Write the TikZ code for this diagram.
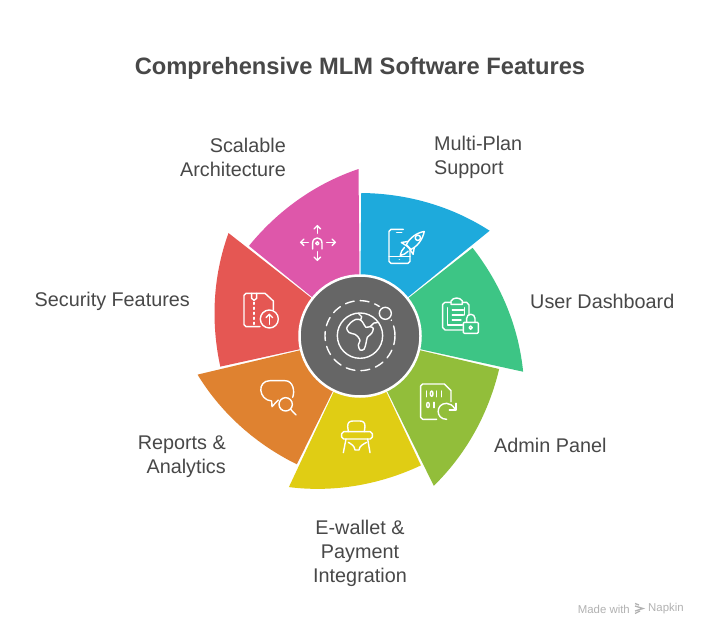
\documentclass[tikz,border=0pt]{standalone}
\usepackage{fontspec}
\setmainfont{Liberation Sans}
\usepackage{xcolor}
\usetikzlibrary{positioning}
\definecolor{wedgeblue}{RGB}{30,170,220}
\definecolor{wedgegreen}{RGB}{61,197,133}
\definecolor{wedgeolive}{RGB}{146,190,58}
\definecolor{wedgeyellow}{RGB}{224,205,20}
\definecolor{wedgeorange}{RGB}{223,130,48}
\definecolor{wedgered}{RGB}{229,87,83}
\definecolor{wedgepink}{RGB}{222,87,170}
\definecolor{hubgray}{RGB}{102,102,102}
\definecolor{labelgray}{RGB}{72,72,72}
\definecolor{markgray}{RGB}{178,178,178}

\begin{document}
\begin{tikzpicture}[
		x=1pt,y=-1pt,
		lbl/.style={inner sep=0pt, text=labelgray, font=\fontsize{19.8}{24}\selectfont},
		ttl/.style={inner sep=0pt, text=labelgray, font=\fontsize{23.7}{28}\selectfont\bfseries},
		wmark/.style={inner sep=0pt, text=markgray, font=\fontsize{11.4}{13}\selectfont},
		icon/.style={draw=white, line width=1.4pt, line join=round, line cap=round},
		crop/.style={x=0.3333pt,y=-0.3333pt}
		]
		\useasboundingbox (0,0) rectangle (708,636);
		\fill[white] (0,0) rectangle (708,636);

		% ====== TITLE ======
		\node[ttl] (title) at (360,68) {Comprehensive MLM Software Features};

		% ====== WEDGES (radius grows clockwise) ======
		\foreach \ang/\col in {90/wedgeblue, 38.57/wedgegreen, -12.86/wedgeolive, -64.29/wedgeyellow,
			-115.71/wedgeorange, -167.14/wedgered, -218.57/wedgepink}
		\fill[\col] plot[domain=0:1,samples=40]
		({360+(143+24*\x*\x)*cos(\ang-0.5-50.43*\x)},{336-(143+24*\x*\x)*sin(\ang-0.5-50.43*\x)})
		-- (360,336) -- cycle;

		\node[circle, fill=hubgray, draw=white, line width=2.5pt, minimum size=121pt, inner sep=0pt] (hub) at (360,336) {};

		% ====== HUB ICON ======
		\begin{scope}[shift={(190,160)},crop]
			\draw[icon, dash pattern=on 9pt off 6pt] (510,527) circle [radius=105];
			\draw[icon, fill=hubgray, draw=hubgray, line width=4pt] (586,460) circle [radius=20];
			\draw[icon] (586,460) circle [radius=18];
			\draw[icon] (510,527) circle [radius=68];
		\end{scope}
		\begin{scope}[shift={(330,300)},crop]
			\draw[icon] plot[smooth cycle] coordinates {(92,60) (78,58) (62,68) (50,85) (58,98) (75,103) (85,112)
				(90,122) (85,135) (90,150) (102,148) (108,130) (112,112) (125,100) (130,85) (120,80) (108,82) (100,70)};
			\draw[icon] (85,40) -- (95,50) -- (92,60);
			\draw[icon] (120,80) -- (132,69) -- (142,68);
		\end{scope}

		% ====== ICON: SCALABLE ======
		\begin{scope}[shift={(230,215)},crop]
			\draw[icon] (262,55) -- (262,32);
			\draw[icon] (252,42) -- (262,32) -- (272,42);
			\draw[icon] (235,82) -- (212,82);
			\draw[icon] (222,72) -- (212,82) -- (222,92);
			\draw[icon] (290,82) -- (316,82);
			\draw[icon] (306,72) -- (316,82) -- (306,92);
			\draw[icon] (262,110) -- (262,136);
			\draw[icon] (252,126) -- (262,136) -- (272,126);
			\draw[icon] (248,102) -- (248,84) .. controls (248,64) and (276,64) .. (276,84) -- (276,102);
			\draw[icon] (262,85) circle [radius=5];
		\end{scope}

		% ====== ICON: SECURITY ======
		\begin{scope}[shift={(230,215)},crop]
			\draw[icon] (90,335) -- (48,335) -- (42,329) -- (42,241) -- (48,235) -- (105,235) -- (130,258) -- (130,285);
			\draw[icon] (65,235) -- (65,250) -- (72,256) -- (80,250) -- (80,235);
			\draw[icon, dash pattern=on 2pt off 3pt] (72,262) -- (72,330);
			\draw[icon] (118,312) circle [radius=27];
			\draw[icon] (118,328) -- (118,298);
			\draw[icon] (108,308) -- (118,298) -- (128,308);
		\end{scope}

		% ====== ICON: MULTI-PLAN ======
		\begin{scope}[shift={(385,224)},crop]
			\draw[icon] (55,16) -- (18,16) -- (12,22) -- (12,112) -- (18,118) -- (69,118) -- (75,112) -- (75,68);
			\draw[icon] (12,97) -- (75,97);
			\draw[icon] (35,25) -- (50,25);
			\draw[icon] (43,107) -- (43.1,107);
			\begin{scope}[shift={(88,52)},rotate=45]
				\draw[icon, fill=wedgeblue] (-12,-12) -- (-30,-25) -- (-26,-6) -- (-26,6) -- (-30,25) -- (-12,12) -- cycle;
				\draw[icon, fill=wedgeblue] (-24,-10) .. controls (-5,-17) and (22,-14) .. (42,0)
				.. controls (22,14) and (-5,17) .. (-24,10) -- cycle;
				\draw[icon] (15,0) circle [radius=8];
				\draw[icon] (-34,-8) .. controls (-44,-10) and (-52,-4) .. (-60,0) .. controls (-52,4) and (-44,10) .. (-34,8);
			\end{scope}
		\end{scope}

		% ====== ICON: DASHBOARD ======
		\begin{scope}[shift={(375,215)},crop]
			\draw[icon] (228,262) -- (210,262) -- (203,268) -- (203,338) -- (210,345) -- (262,345);
			\draw[icon] (262,262) -- (275,262) -- (282,270) -- (282,300);
			\draw[icon] (228,268) -- (228,258) .. controls (235,246) and (255,246) .. (262,258) -- (262,268) -- cycle;
			\draw[icon] (218,278) -- (218,330) -- (262,330);
			\draw[icon] (268,278) -- (268,300);
			\draw[icon] (232,285) -- (265,285);
			\draw[icon] (232,300) -- (265,300);
			\draw[icon] (232,315) -- (258,315);
			\draw[icon] (268,322) -- (307,322) -- (310,325) -- (310,352) -- (307,355) -- (268,355) -- (265,352) -- (265,325) -- cycle;
			\draw[icon] (275,322) -- (275,310) .. controls (275,294) and (300,294) .. (300,310) -- (300,322);
			\draw[icon] (287,338) circle [radius=5];
		\end{scope}

		% ====== ICON: ADMIN ======
		\begin{scope}[shift={(250,370)},crop]
			\draw[icon] (560,148) -- (518,148) -- (512,142) -- (512,48) -- (518,42) -- (583,42) -- (603,62) -- (603,95);
			\draw[icon] (530,63) -- (530,80);
			\draw[icon] (545,71) ellipse [x radius=4, y radius=8];
			\draw[icon] (560,63) -- (560,80);
			\draw[icon] (575,63) -- (575,80);
			\draw[icon] (534,105) ellipse [x radius=4, y radius=8];
			\draw[icon] (552,97) -- (552,113);
			\draw[icon] (590,148) .. controls (556,148) and (556,100) .. (590,100) .. controls (600,100) and (608,106) .. (616,118);
			\draw[icon] (598,120) -- (618,120) -- (618,100);
		\end{scope}

		% ====== ICON: E-WALLET ======
		\begin{scope}[shift={(335,415)},crop]
			\draw[icon] (40,50) -- (38,34) .. controls (38,22) and (44,18) .. (54,18) -- (74,18)
			.. controls (84,18) and (90,22) .. (90,34) -- (88,50);
			\draw[icon] (26,50) -- (106,50) -- (112,56) -- (112,66) -- (106,72) -- (26,72) -- (20,66) -- (20,56) -- cycle;
			\draw[icon] (33,72) -- (25,113);
			\draw[icon] (98,72) -- (105,113);
			\draw[icon] (40,82) .. controls (50,88) and (58,92) .. (60,105) -- (72,105) .. controls (74,92) and (84,88) .. (95,82);
		\end{scope}

		% ====== ICON: REPORTS ======
		\begin{scope}[shift={(250,370)},crop]
			\draw[icon] (85,90) -- (80,95) -- (66,110) -- (65,93) .. controls (25,90) and (20,32) .. (60,32)
			-- (105,32) .. controls (130,32) and (135,65) .. (128,82);
			\draw[icon] (107,103) circle [radius=20];
			\draw[icon] (122,118) -- (138,135);
		\end{scope}

		% ====== LABELS ======
		\node[lbl, align=right, anchor=east] (lblScale) at (286,157) {Scalable\\Architecture};
		\node[lbl, align=left, anchor=west] (lblMulti) at (434,157) {Multi-Plan\\Support};
		\node[lbl, anchor=west] (lblUser) at (530,301) {User Dashboard};
		\node[lbl, anchor=east] (lblSecure) at (190,301) {Security Features};
		\node[lbl, anchor=west] (lblAdmin) at (494,445) {Admin Panel};
		\node[lbl, align=right, anchor=east] (lblReport) at (226,457) {Reports \&\\Analytics};
		\node[lbl, align=center] (lblWallet) at (360,553) {E-wallet \&\\Payment\\Integration};

		% ====== WATERMARK ======
		\node[wmark, anchor=east] (markA) at (630,609) {Made with};
		\node[wmark, anchor=west] (markB) at (648,609) {Napkin};
		\draw[markgray, line width=1.3pt] (635,603.5) -- (639,605);
		\draw[markgray, line width=1.3pt] (635,606) -- (643,608.5) -- (635,611);
		\draw[markgray, line width=1.3pt] (640,611) -- (635,613.5);
\end{tikzpicture}
\end{document}
